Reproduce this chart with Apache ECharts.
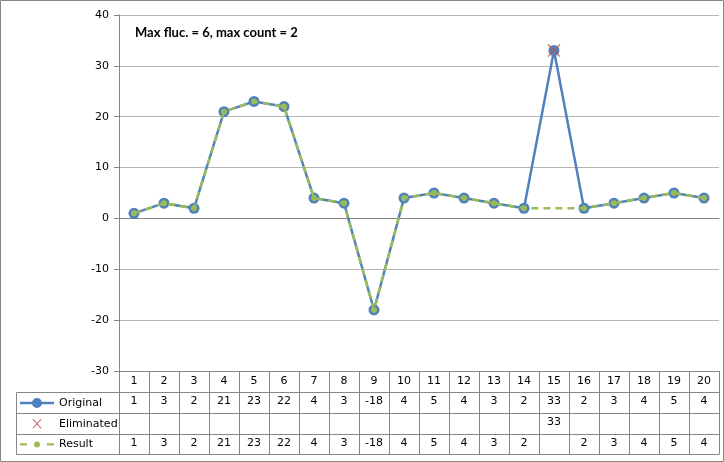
<!DOCTYPE html>
<html><head><meta charset="utf-8">
<script src="https://cdn.jsdelivr.net/npm/echarts/dist/echarts.min.js"></script>
<style>html,body{margin:0;padding:0;background:#fff}#c{width:724px;height:462px}</style>
</head><body><div id="c"></div>
<script>
const categories = ['1','2','3','4','5','6','7','8','9','10','11','12','13','14','15','16','17','18','19','20'];
const original = [1,3,2,21,23,22,4,3,-18,4,5,4,3,2,33,2,3,4,5,4];
const eliminated = [null,null,null,null,null,null,null,null,null,null,null,null,null,null,33,null,null,null,null,null];
const result = [1,3,2,21,23,22,4,3,-18,4,5,4,3,2,null,2,3,4,5,4];
const seriesNames = ['Original','Eliminated','Result'];
const yMin = -30, yMax = 40, yInterval = 10;
const annotation = 'Max fluc. = 6, max count = 2';

const FONT = 'DejaVu Sans';
const GRID_C = '#868686';
const fmt = a => a.map(v => v == null ? '' : String(v));

function tableAxis(data, offset, showLabel, extra) {
  return Object.assign({
    type: 'category', data: data, position: 'bottom', offset: offset,
    boundaryGap: true, gridIndex: 0,
    axisLine: { show: true, onZero: false, lineStyle: { color: GRID_C, width: 1 } },
    axisTick: { show: false },
    axisLabel: { show: showLabel, interval: 0, margin: 4, color: '#000', fontFamily: FONT, fontSize: 11 },
    splitLine: { show: false }
  }, extra || {});
}

const chart = echarts.init(document.getElementById('c'), null, { renderer: 'canvas' });
chart.setOption({
  animation: false,
  backgroundColor: '#fff',
  title: {
    text: annotation, left: 135, top: 26, padding: 0,
    textStyle: { fontFamily: 'Lato', fontWeight: 'bold', fontSize: 13, color: '#000' }
  },
  grid: { left: 119, top: 15, width: 600, height: 356, outerBoundsMode: 'none', containLabel: false },
  legend: {
    orient: 'vertical', left: 20, top: 396, itemWidth: 34, itemHeight: 14, itemGap: 6.7,
    selectedMode: false, padding: 0,
    textStyle: { fontFamily: FONT, fontSize: 11, color: '#000' },
    itemStyle: { borderWidth: 0 },
    data: [
      { name: seriesNames[0], icon: 'path://M0,0L0,0M34,14L34,14M0,5.8L34,5.8L34,8.2L0,8.2ZM22,7A5,5,0,1,1,12,7A5,5,0,1,1,22,7Z' },
      { name: seriesNames[1], icon: 'path://M0,0L0,0M34,14L34,14M12.5,2.7L13.2,2L21.5,11.3L20.8,12ZM20.8,2L21.5,2.7L13.2,12L12.5,11.3Z' },
      { name: seriesNames[2], icon: 'path://M0,0L0,0M34,14L34,14M0,5.8L7,5.8L7,8.2L0,8.2ZM27,5.8L34,5.8L34,8.2L27,8.2ZM20,7A3,3,0,1,1,14,7A3,3,0,1,1,20,7Z' }
    ]
  },
  xAxis: [
    tableAxis(categories, 0, true, {
      axisTick: { show: true, interval: 0, length: 83, inside: false, lineStyle: { color: GRID_C } },
      axisLabel: { show: true, interval: 0, margin: 5, color: '#000', fontFamily: FONT, fontSize: 11 }
    }),
    tableAxis(fmt(original), 21, true),
    tableAxis(fmt(eliminated), 42, true),
    tableAxis(fmt(result), 63, true),
    tableAxis(categories, 83, false),
    {
      type: 'category', data: categories, boundaryGap: true, position: 'bottom',
      axisLine: { show: true, onZero: true, lineStyle: { color: GRID_C, width: 1 } },
      axisTick: { show: false }, axisLabel: { show: false }, splitLine: { show: false }
    }
  ],
  yAxis: {
    type: 'value', min: yMin, max: yMax, interval: yInterval,
    axisLine: { show: true, lineStyle: { color: GRID_C } },
    axisTick: { show: true, length: 5, lineStyle: { color: GRID_C } },
    axisLabel: { color: '#000', fontFamily: FONT, fontSize: 11, margin: 10 },
    splitLine: { show: true, lineStyle: { color: '#b5b5b5', width: 1 } }
  },
  graphic: [
    { type: 'rect', silent: true, shape: { x: 0.5, y: 0.5, width: 723, height: 461 }, style: { fill: null, stroke: GRID_C, lineWidth: 1 } },
    { type: 'polyline', silent: true, shape: { points: [[119, 392.5], [16.5, 392.5], [16.5, 454.5], [119, 454.5]] }, style: { fill: null, stroke: GRID_C, lineWidth: 1 } },
    { type: 'line', silent: true, shape: { x1: 16.5, y1: 413.5, x2: 119, y2: 413.5 }, style: { stroke: GRID_C, lineWidth: 1 } },
    { type: 'line', silent: true, shape: { x1: 16.5, y1: 434.5, x2: 119, y2: 434.5 }, style: { stroke: GRID_C, lineWidth: 1 } }
  ],
  series: [
    {
      name: seriesNames[0], type: 'line', xAxisIndex: 0, data: original,
      symbol: 'circle', symbolSize: 11, showSymbol: true,
      lineStyle: { color: '#4F81BD', width: 2.5 },
      itemStyle: { color: '#4F81BD', borderWidth: 0 },
      emphasis: { disabled: true }, z: 2
    },
    {
      name: seriesNames[1], type: 'scatter', xAxisIndex: 0, data: eliminated,
      symbol: 'path://M0,0.7L0.7,0L10,9.3L9.3,10ZM9.3,0L10,0.7L0.7,10L0,9.3Z', symbolSize: 13,
      itemStyle: { color: '#C0504D', opacity: 0.85, borderWidth: 0 },
      emphasis: { disabled: true }, z: 4
    },
    {
      name: seriesNames[2], type: 'line', xAxisIndex: 0, data: result, connectNulls: true,
      symbol: 'circle', symbolSize: 6, showSymbol: true,
      lineStyle: { color: '#9BBB59', width: 2.5, type: [7, 5] },
      itemStyle: { color: '#9BBB59', borderWidth: 0 },
      emphasis: { disabled: true }, z: 3
    }
  ]
});
</script>
</body></html>
